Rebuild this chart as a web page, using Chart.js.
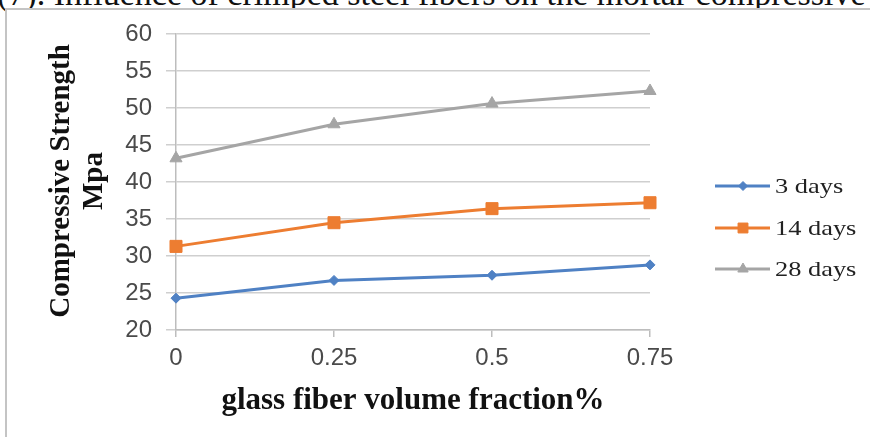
<!DOCTYPE html>
<html>
<head>
<meta charset="utf-8">
<script src="https://cdn.jsdelivr.net/npm/chart.js@4"></script>
<style>
  html,body{margin:0;padding:0;background:#fff;}
  #wrap{position:relative;width:870px;height:437px;overflow:hidden;background:#fff;}
  #cap{position:absolute;left:-3px;top:-23px;line-height:34px;white-space:nowrap;font-family:"Liberation Serif","Times New Roman",serif;font-size:34px;color:#111;}
  #frame{position:absolute;left:5px;top:8px;width:880px;height:440px;border-left:2px solid #c4c4c4;border-top:2px solid #c4c4c4;box-sizing:border-box;background:#fff;}
  canvas{position:absolute;left:0;top:0;}
</style>
</head>
<body>
<div id="wrap">
  <div id="cap">(7). Influence of crimped steel fibers on the mortar compressive</div>
  <div id="frame"></div>
  <canvas id="c" width="870" height="437"></canvas>
</div>
<script>
const categories = ['0', '0.25', '0.5', '0.75'];
const days3 = [24.3, 26.7, 27.4, 28.8];
const days14 = [31.3, 34.5, 36.4, 37.2];
const days28 = [43.2, 47.8, 50.6, 52.3];
const seriesNames = ['3 days', '14 days', '28 days'];
const yTicks = [20, 25, 30, 35, 40, 45, 50, 55, 60];
const yTitle = ['Compressive Strength', 'Mpa'];
const xTitle = 'glass fiber volume fraction%';

const colors = ['#4f81c4', '#ed7d31', '#a5a5a5'];
const styles = ['rectRot', 'rect', 'triangle'];
const radii = [5, 8.5, 7];
const legendRadii = [4.5, 7, 6];

const customDraw = {
  id: 'customDraw',
  afterDraw(chart) {
    const ctx = chart.ctx;
    const area = chart.chartArea;
    ctx.save();
    ctx.fillStyle = '#111';
    ctx.font = 'bold 29px "Liberation Serif", "Times New Roman", serif';
    ctx.textAlign = 'center';
    ctx.textBaseline = 'middle';
    ctx.save();
    ctx.translate(62, 181);
    ctx.rotate(-Math.PI / 2);
    ctx.fillText(yTitle[0], 0, 0);
    ctx.restore();
    ctx.save();
    ctx.translate(95, 181);
    ctx.rotate(-Math.PI / 2);
    ctx.fillText(yTitle[1], 0, 0);
    ctx.restore();
    // x title
    ctx.font = 'bold 31px "Liberation Serif", "Times New Roman", serif';
    ctx.fillText(xTitle, (area.left + area.right) / 2, 401);
    // legend
    const ys = [186, 228, 269];
    chart.data.datasets.forEach((ds, i) => {
      const y = ys[i];
      ctx.strokeStyle = ds.borderColor;
      ctx.lineWidth = 3;
      ctx.beginPath();
      ctx.moveTo(715, y);
      ctx.lineTo(770, y);
      ctx.stroke();
      ctx.fillStyle = ds.borderColor;
      ctx.lineWidth = 1;
      Chart.helpers.drawPoint(ctx, {pointStyle: ds.pointStyle, radius: legendRadii[i], borderWidth: 1}, 743, y);
      ctx.save();
      ctx.fillStyle = '#222';
      ctx.font = '22px "Liberation Serif", "Times New Roman", serif';
      ctx.textAlign = 'left';
      ctx.textBaseline = 'middle';
      ctx.translate(775, y + 1);
      ctx.scale(1.2, 1);
      ctx.fillText(ds.label, 0, 0);
      ctx.restore();
    });
    ctx.restore();
  }
};

const mk = (i, data) => ({
  label: seriesNames[i],
  data: data,
  borderColor: colors[i],
  backgroundColor: colors[i],
  borderWidth: 3,
  pointStyle: styles[i],
  pointRadius: radii[i],
  pointBorderWidth: 1,
  tension: 0
});

new Chart(document.getElementById('c'), {
  type: 'line',
  data: {
    labels: categories,
    datasets: [mk(0, days3), mk(1, days14), mk(2, days28)]
  },
  options: {
    responsive: false,
    animation: false,
    devicePixelRatio: 1,
    layout: {padding: {left: 0, right: 220, top: 34, bottom: 0}},
    plugins: {legend: {display: false}, tooltip: {enabled: false}},
    scales: {
      x: {
        type: 'category',
        offset: false,
        grid: {display: true, drawOnChartArea: false, drawTicks: true, tickLength: 7, color: '#bdbdbd', lineWidth: 1.5},
        border: {display: true, color: '#bdbdbd', width: 1.5},
        ticks: {color: '#4a4a4a', font: {family: '"Liberation Sans", Arial, sans-serif', size: 24}, padding: 7, maxRotation: 0},
        afterFit: s => { s.height = 107; }
      },
      y: {
        min: 20, max: 60,
        afterBuildTicks: s => { s.ticks = yTicks.map(v => ({value: v})); },
        grid: {color: '#cfcfcf', lineWidth: 1.5, tickLength: 10, drawTicks: true},
        border: {display: true, color: '#bdbdbd', width: 1.5},
        ticks: {color: '#4a4a4a', font: {family: '"Liberation Sans", Arial, sans-serif', size: 24}, padding: 14},
        afterFit: s => { s.width = 176; }
      }
    }
  },
  plugins: [customDraw]
});
</script>
</body>
</html>
